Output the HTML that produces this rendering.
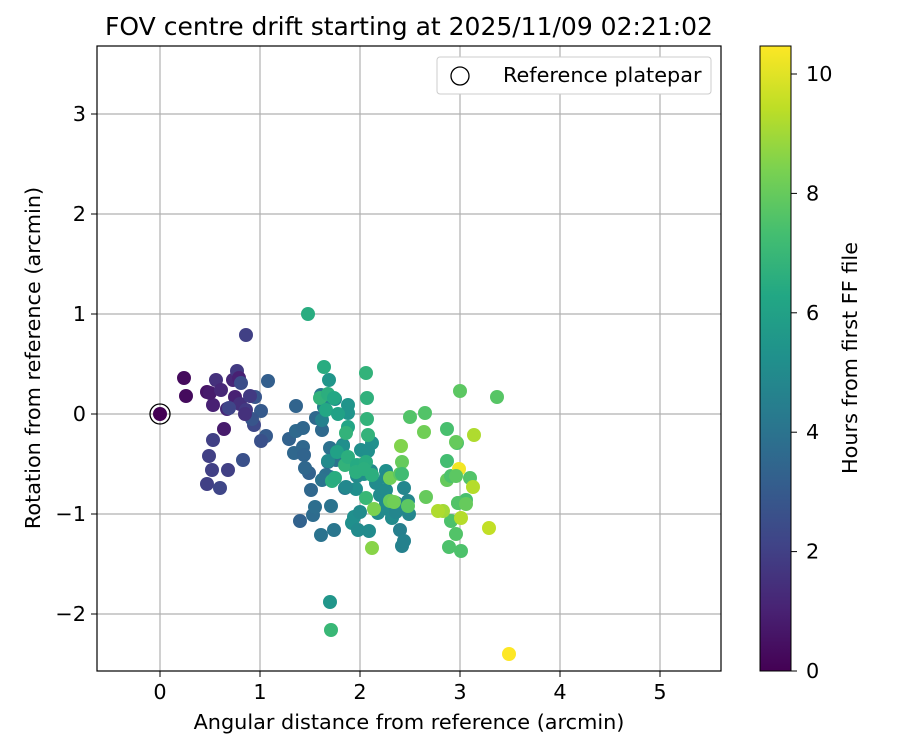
<!DOCTYPE html>
<html><head><meta charset="utf-8"><style>
body{margin:0;background:#fff}
svg{display:block;font-family:"DejaVu Sans","Liberation Sans",sans-serif}
</style></head><body>
<svg id="chart" width="900" height="750">
<rect width="900" height="750" fill="#fff"/>
<text x="409" y="35" text-anchor="middle" font-size="25">FOV centre drift starting at 2025/11/09 02:21:02</text>
<g id="grid"></g>
<g id="pts"></g>
<rect x="97" y="46" width="624" height="625" fill="none" stroke="#000" stroke-width="1.2"/>
<g id="ticks"></g>
<text x="409" y="729" text-anchor="middle" font-size="20.8">Angular distance from reference (arcmin)</text>
<text transform="translate(40,358) rotate(-90)" text-anchor="middle" font-size="20.8">Rotation from reference (arcmin)</text>
<g>
<rect x="437" y="57" width="274" height="37" rx="3" fill="#fff" stroke="#ccc"/>
<circle cx="460" cy="76" r="9" fill="none" stroke="#000" stroke-width="1.3"/>
<text x="503" y="82" font-size="20.8">Reference platepar</text>
</g>
<defs><linearGradient id="vg" x1="0" y1="1" x2="0" y2="0">
</linearGradient></defs>
<rect id="cbar" x="760" y="46" width="31" height="625" fill="url(#vg)" stroke="#000" stroke-width="1"/>
<g id="cticks"></g>
<text transform="translate(857,358) rotate(-90)" text-anchor="middle" font-size="20.8">Hours from first FF file</text>
</svg>
<script>
const xTicks=[0,1,2,3,4,5];
const yTicks=[-2,-1,0,1,2,3];
const cTicks=[0,2,4,6,8,10];
const xs=[0.24,0.26,0.47,0.53,0.50,0.64,0.56,0.61,0.73,0.77,0.79,0.86,0.75,0.67,0.80,0.86,0.53,0.49,0.52,0.47,0.68,0.60,0.69,0.81,0.95,1.01,1.06,1.01,0.94,0.83,1.08,0.92,0.85,0.90,
1.36,1.34,1.29,1.36,1.43,1.43,1.49,1.40,1.44,1.51,1.53,1.61,1.55,1.62,1.45,1.56,1.61,1.66,1.68,1.70,1.70,1.62,1.71,1.74,1.76,1.83,1.85,
1.64,1.62,1.69,1.69,1.75,1.68,1.88,1.88,1.83,1.92,1.94,1.98,2.00,2.09,1.96,2.04,2.01,2.04,2.12,2.08,1.97,1.86,2.11,2.16,2.20,2.26,2.28,2.28,2.32,2.36,2.36,2.40,2.42,2.44,2.49,2.44,2.48,2.26,2.18,2.26,2.26,
1.48,1.64,1.60,1.68,1.66,1.74,1.78,1.88,1.86,1.77,1.72,1.75,1.85,1.88,1.97,1.96,2.06,2.07,2.07,2.08,2.06,2.06,2.12,2.04,1.70,1.71,2.14,2.12,2.30,2.30,2.34,2.40,2.42,2.41,2.50,2.65,2.64,2.87,2.87,2.87,3.00,2.97,2.91,2.91,2.89,2.98,2.96,2.83,3.01,3.06,3.10,3.01,2.98,2.96,3.37,3.14,3.13,3.29,3.49,2.99,2.96,2.78,2.66,3.06,2.42,2.48];
const ys=[0.36,0.18,0.22,0.09,0.21,-0.15,0.34,0.24,0.34,0.43,0.36,0.79,0.17,0.05,0.10,0.04,-0.26,-0.42,-0.56,-0.70,-0.56,-0.74,0.06,0.31,0.17,0.03,-0.22,-0.27,-0.11,-0.46,0.33,-0.05,0.00,0.18,
0.08,-0.39,-0.25,-0.17,-0.14,-0.33,-0.59,-1.07,-0.41,-0.76,-1.01,-1.21,-0.93,-0.16,-0.54,-0.04,0.19,-0.61,-0.48,-0.34,-0.63,-0.66,-0.92,-1.16,-0.46,-0.31,-0.74,
0.07,-0.06,0.34,0.18,0.15,-0.47,0.09,0.01,-0.32,-1.09,-1.03,-1.16,-0.98,-1.17,-0.75,-0.54,-0.36,-0.60,-0.29,-0.37,-0.62,-0.73,-0.57,-0.69,-0.81,-0.76,-0.86,-0.95,-1.04,-0.98,-0.89,-1.16,-1.32,-1.27,-1.00,-0.74,-0.87,-0.57,-0.99,-0.63,-0.89,
1.00,0.47,0.16,0.20,0.04,0.16,0.00,-0.13,-0.19,-0.38,-0.67,-0.64,-0.51,-0.43,-0.51,-0.58,0.41,0.16,-0.05,-0.21,-0.48,-0.84,-0.61,-0.55,-1.88,-2.16,-0.95,-1.34,-0.64,-0.87,-0.88,-0.60,-0.48,-0.32,-0.03,0.01,-0.18,-0.15,-0.47,-0.66,0.23,-0.29,-0.62,-1.07,-1.33,-0.89,-1.20,-0.97,-1.04,-0.86,-0.64,-1.37,-0.89,-0.28,0.17,-0.21,-0.73,-1.14,-2.40,-0.55,-0.62,-0.97,-0.83,-0.90,-0.60,-0.92];
const hours=[0.3,0.3,0.6,1.0,0.8,0.8,1.5,1.2,1.2,1.8,1.0,2.0,1.0,1.2,1.5,1.8,2.0,2.0,2.0,2.0,2.0,2.2,2.2,2.5,2.8,3.0,3.0,2.6,2.3,2.6,3.2,2.8,1.5,1.8,
3.4,3.5,3.3,3.6,3.5,3.5,3.3,3.3,3.4,3.5,3.7,4.0,3.8,3.6,3.5,3.6,4.2,3.9,3.8,3.9,3.9,4.0,4.0,4.1,4.0,4.2,4.2,
4.6,4.6,5.5,5.0,5.0,5.0,5.4,5.4,5.2,5.2,5.2,5.0,5.0,5.0,5.2,5.0,5.2,5.2,5.3,5.2,5.0,4.9,5.0,5.0,5.0,5.0,5.0,5.0,5.0,4.8,4.8,4.5,4.6,4.6,4.8,4.8,4.8,5.2,5.0,5.0,5.0,
6.5,6.5,6.8,6.6,6.3,6.3,6.0,6.2,6.8,6.0,6.6,6.5,6.8,6.6,6.4,6.6,6.8,6.7,6.8,6.8,6.5,7.0,6.6,6.6,5.5,7.0,8.4,8.6,8.2,8.0,8.2,7.8,8.0,8.5,7.6,7.6,8.2,7.4,7.3,8.0,7.8,7.5,7.5,7.5,7.5,7.8,7.6,9.0,9.3,7.4,7.6,7.5,7.6,8.0,7.7,9.2,9.3,9.5,10.5,10.3,7.8,9.2,8.0,8.0,7.2,7.8];
const X0=160,XS=100,Y0=414,YS=100,CB=671,CS=59.7;
const sx=v=>X0+v*XS, sy=v=>Y0-v*YS;
const V=[[68,1,84],[72,35,116],[64,67,135],[52,94,141],[41,120,142],[32,144,140],[34,167,132],[68,190,112],[121,209,81],[189,222,38],[253,231,37]];
function vir(t){t=Math.max(0,Math.min(1,t))*10;const i=Math.min(9,Math.floor(t)),f=t-i;const c=V[i].map((a,k)=>Math.round(a+(V[i+1][k]-a)*f));return `rgb(${c})`;}
const NS='http://www.w3.org/2000/svg';
function mk(t,a,p){const e=document.createElementNS(NS,t);for(const k in a)e.setAttribute(k,a[k]);p.appendChild(e);return e;}
const grid=document.getElementById('grid'),tk=document.getElementById('ticks');
xTicks.forEach(v=>{const x=sx(v);
const g=mk('line',{x1:x,x2:x,y1:46,y2:671,stroke:'#b0b0b0','stroke-width':1.2},grid);


mk('line',{x1:x,x2:x,y1:671,y2:677,stroke:'#000'},tk);
const t=mk('text',{x:x,y:699,'text-anchor':'middle','font-size':20.8},tk);t.textContent=v;

});
yTicks.forEach(v=>{const y=sy(v);
const g=mk('line',{x1:97,x2:721,y1:y,y2:y,stroke:'#b0b0b0','stroke-width':1.2},grid);


mk('line',{x1:91,x2:97,y1:y,y2:y,stroke:'#000'},tk);
const t=mk('text',{x:86,y:y+7,'text-anchor':'end','font-size':20.8},tk);t.textContent=v<0?'\u2212'+(-v):v;

});
const pts=document.getElementById('pts');
xs.forEach((v,i)=>{const c=mk('circle',{cx:sx(v),cy:sy(ys[i]),r:7,fill:vir(hours[i]/10.47)},pts);

});
const ref=mk('circle',{cx:sx(0),cy:sy(0),r:7,fill:vir(0)},pts);


const ring=mk('circle',{cx:sx(0),cy:sy(0),r:10,fill:'none',stroke:'#000','stroke-width':1.3},pts);


const gr=document.getElementById('vg');
V.forEach((c,i)=>mk('stop',{offset:(i/10),'stop-color':`rgb(${c})`},gr));
const ct=document.getElementById('cticks');
cTicks.forEach(v=>{const y=CB-v*CS;
mk('line',{x1:791,x2:797,y1:y,y2:y,stroke:'#000'},ct);
const t=mk('text',{x:806,y:y+7,'font-size':20.8},ct);t.textContent=v;

});
</script>
</body></html>
